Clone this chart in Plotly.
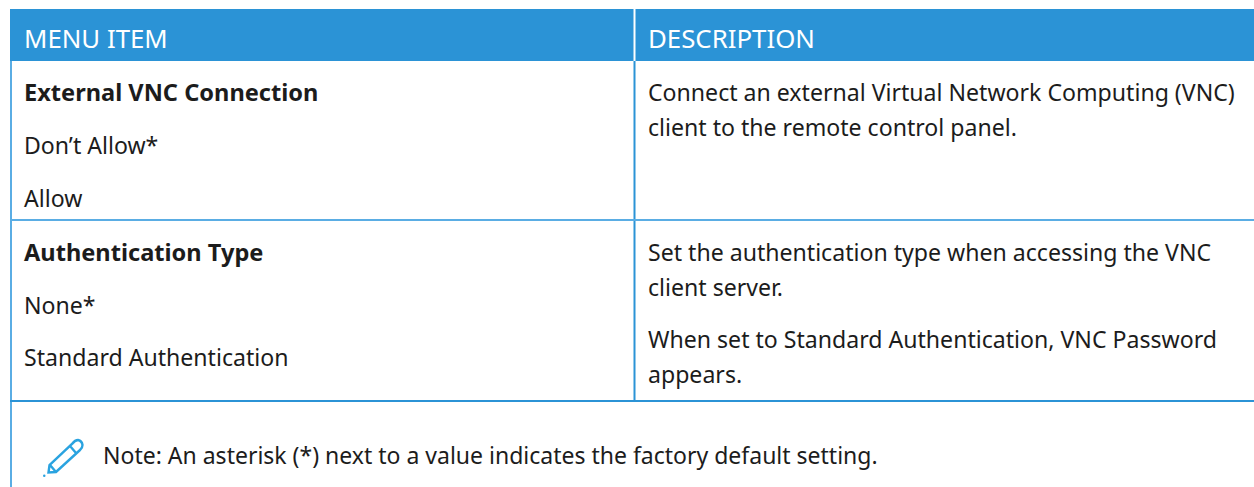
import plotly.graph_objects as go

W, H = 1254, 487
BLUE = "#2b93d6"
LINE = "#5aade4"
ICON = "#2aa3e0"
FONT = "Noto Sans"

headers = ["MENU ITEM", "DESCRIPTION"]
left_items = ["External VNC Connection", "Don’t Allow*", "Allow",
              "Authentication Type", "None*", "Standard Authentication"]
left_bold = [True, False, False, True, False, False]
left_y = [92, 145, 198, 252, 305, 357]
right_items = ["Connect an external Virtual Network Computing (VNC)",
               "client to the remote control panel.",
               "Set the authentication type when accessing the VNC",
               "client server.",
               "When set to Standard Authentication, VNC Password",
               "appears."]
right_y = [92, 127, 252, 287, 339, 374]
note = "Note: An asterisk (*) next to a value indicates the factory default setting."

shapes = [
    dict(type="rect", x0=10, x1=W, y0=9, y1=61, fillcolor=BLUE, line_width=0),
    dict(type="line", x0=634.5, x1=634.5, y0=9, y1=61, line=dict(color="white", width=2)),
    dict(type="line", x0=634.5, x1=634.5, y0=61, y1=401, line=dict(color=BLUE, width=2)),
    dict(type="line", x0=11, x1=11, y0=61, y1=H, line=dict(color=LINE, width=2)),
    dict(type="line", x0=10, x1=W, y0=220, y1=220, line=dict(color=LINE, width=2)),
    dict(type="line", x0=10, x1=W, y0=401, y1=401, line=dict(color=BLUE, width=2)),
    dict(type="path",
         path="M 48.5 472.5 L 49.5 465 L 72 444 Q 75 440 78 440 Q 82 441 82.5 445 "
              "Q 82.5 448 80 450 L 56 472 Z M 50 465 L 56 472 M 70 446 L 76 453",
         line=dict(color=ICON, width=2.4), fillcolor="rgba(0,0,0,0)"),
    dict(type="circle", x0=43, x1=45.5, y0=474.5, y1=477, fillcolor=ICON, line_width=0),
]

ann = []
def add(text, x, y, color="#1c1c1c", bold=False, size=23.1):
    ann.append(dict(text=f"<b>{text}</b>" if bold else text, x=x, y=y, xref="x", yref="y",
                    xanchor="left", yanchor="middle", showarrow=False,
                    font=dict(family=FONT, size=size, color=color)))

add(headers[0], 22, 38, "white", size=25.8)
add(headers[1], 646, 38, "white", size=25.8)
for t, y, b in zip(left_items, left_y, left_bold):
    add(t, 22, y, bold=b, size=23.6 if b else 23.1)
for t, y in zip(right_items, right_y):
    add(t, 646, y)
add(note, 101, 455, size=23.0)

fig = go.Figure()
fig.update_layout(width=W, height=H, margin=dict(l=0, r=0, t=0, b=0),
                  paper_bgcolor="white", plot_bgcolor="white",
                  showlegend=False, shapes=shapes, annotations=ann,
                  xaxis=dict(range=[0, W], visible=False, fixedrange=True),
                  yaxis=dict(range=[H, 0], visible=False, fixedrange=True))
fig.write_html("out.html", config=dict(displayModeBar=False),
               post_script="document.body.style.margin='0';")
